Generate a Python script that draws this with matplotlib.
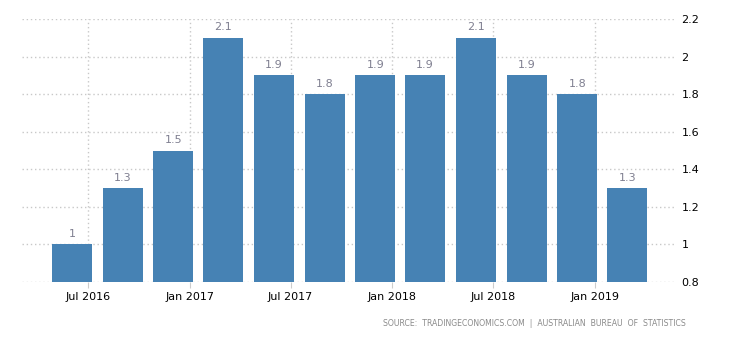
import matplotlib
matplotlib.use("Agg")
import matplotlib.pyplot as plt
import pandas as pd

dates = ["2016-06-01", "2016-09-01", "2016-12-01", "2017-03-01", "2017-06-01", "2017-09-01",
         "2017-12-01", "2018-03-01", "2018-06-01", "2018-09-01", "2018-12-01", "2019-03-01"]
values = [1.0, 1.3, 1.5, 2.1, 1.9, 1.8, 1.9, 1.9, 2.1, 1.9, 1.8, 1.3]
value_labels = ["1", "1.3", "1.5", "2.1", "1.9", "1.8", "1.9", "1.9", "2.1", "1.9", "1.8", "1.3"]
tick_dates = ["2016-07-01", "2017-01-01", "2017-07-01", "2018-01-01", "2018-07-01", "2019-01-01"]
tick_labels = ["Jul 2016", "Jan 2017", "Jul 2017", "Jan 2018", "Jul 2018", "Jan 2019"]
y_ticks = [0.8, 1.0, 1.2, 1.4, 1.6, 1.8, 2.0, 2.2]
y_tick_labels = ["0.8", "1", "1.2", "1.4", "1.6", "1.8", "2", "2.2"]
source = "SOURCE:  TRADINGECONOMICS.COM  |  AUSTRALIAN  BUREAU  OF  STATISTICS"

x = pd.to_datetime(dates)
xt = pd.to_datetime(tick_dates)

fig = plt.figure(figsize=(7.3, 3.4), dpi=100)
ax = fig.add_axes([22/730, (340-282)/340, (676-22)/730, (282-19)/340])

ax.bar(x, values, width=72, color="#4682b4", zorder=2)
for xi, v, lab in zip(x, values, value_labels):
    ax.annotate(lab, (xi, v), xytext=(0, 4), textcoords="offset points",
                ha="center", va="bottom", fontsize=8, color="#7f7f90")

ax.set_ylim(0.8, 2.2)
ax.set_xlim(pd.Timestamp("2016-03-03"), pd.Timestamp("2019-05-28"))
ax.yaxis.tick_right()
ax.set_yticks(y_ticks)
ax.set_yticklabels(y_tick_labels)
ax.set_xticks(xt)
ax.set_xticklabels(tick_labels)
ax.tick_params(axis="y", length=0, pad=4, labelsize=8, labelcolor="#000000")
ax.tick_params(axis="x", length=4, color="#cccccc", pad=3, labelsize=8, labelcolor="#000000")
for lbl in ax.get_yticklabels():
    lbl.set_horizontalalignment("left")

ax.grid(True, color="#c8c8c8", linestyle=(0, (1, 2)), linewidth=1, zorder=0)
ax.set_axisbelow(True)
for s in ax.spines.values():
    s.set_visible(False)

fig.text(686/730, 1 - 324/340, source, ha="right", va="center", fontsize=5.6, color="#8a8a8a")

fig.savefig("out.png", dpi=100)
